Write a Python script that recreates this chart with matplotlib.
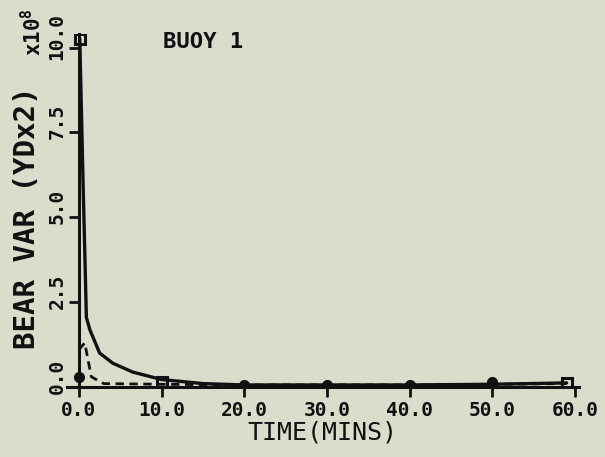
import numpy as np
import matplotlib.pyplot as plt
from matplotlib.transforms import ScaledTranslation

plt.rcParams['font.family'] = ['DejaVu Sans Mono', 'DejaVu Sans']
plt.rcParams['mathtext.default'] = 'regular'

###############################################################################
# Data (bearing variance, units of 1e8 yd^2)
# ------------------------------------------------------------
solid_time = [0.1, 0.5, 0.9, 1.3, 2.5, 4.1, 6.5, 10.0, 15.0, 20.0, 30.0, 40.0, 50.0, 59.0]
solid_var = [10.26, 6.0, 2.05, 1.7, 1.0, 0.7, 0.44, 0.22, 0.1, 0.06, 0.06, 0.06, 0.08, 0.12]

dashed_time = [0.0, 0.7, 1.5, 3.0, 10.0, 20.0, 30.0, 40.0, 50.0, 59.0]
dashed_var = [1.1, 1.3, 0.3, 0.1, 0.08, 0.06, 0.06, 0.06, 0.08, 0.1]

box_time = [0.1, 10.0, 59.0]
box_var = [10.26, 0.15, 0.12]

circle_time = [0.0, 20.0, 30.0, 40.0, 50.0]
circle_var = [0.3, 0.06, 0.06, 0.06, 0.15]

xticks = [0, 10, 20, 30, 40, 50, 60]
yticks = [0.0, 2.5, 5.0, 7.5, 10.0]

bg = '#dbdccb'
ink = '#111111'

###############################################################################
# Figure
# ------
fig = plt.figure(figsize=(6.05, 4.57), dpi=100, facecolor=bg)
ax = fig.add_axes([0.110, 0.1532, 0.847, 0.7724], facecolor=bg)

ax.plot(solid_time, solid_var, color=ink, lw=2.4, solid_capstyle='round')
ax.plot(dashed_time, dashed_var, color=ink, lw=2.0, linestyle=(0, (3, 2)))
ax.plot(box_time, box_var, linestyle='none', marker='s', ms=7, mfc='none', mec=ink, mew=2.2)
ax.plot(circle_time, circle_var, linestyle='none', marker='o', ms=7, mfc=ink, mec=ink)

ax.set_xlim(-1.5, 60.5)
ax.set_ylim(0, 10.4)

for s in ['top', 'right']:
    ax.spines[s].set_visible(False)
ax.spines['left'].set_position(('data', 0))
ax.spines['left'].set_linewidth(2.2)
ax.spines['bottom'].set_linewidth(2.2)
ax.spines['left'].set_color(ink)
ax.spines['bottom'].set_color(ink)

ax.set_xticks(xticks)
ax.set_xticklabels(['%.1f' % t for t in xticks], fontsize=14, fontweight='bold')
ax.set_yticks(yticks)
ax.set_yticklabels(['%.1f' % v for v in yticks], fontsize=14, fontweight='bold',
                   rotation=90, va='center')
ax.tick_params(axis='both', direction='out', length=7, width=2, color=ink, labelcolor=ink)
ax.tick_params(axis='x', pad=3)
ax.tick_params(axis='y', pad=2)

# y tick labels sit a little above their ticks in the original
for lbl in ax.get_yticklabels():
    lbl.set_transform(lbl.get_transform() + ScaledTranslation(0, 8 / 72, fig.dpi_scale_trans))

ax.set_xlabel('TIME(MINS)', fontsize=18, color=ink)
ax.xaxis.set_label_coords(0.499, -0.094)
ax.set_ylabel('BEAR VAR (YDx2)', fontsize=21, fontweight='bold', color=ink)
ax.yaxis.set_label_coords(-0.050, 0.479)

ax.text(0.188, 0.960, 'BUOY 1', transform=ax.transAxes, fontsize=16,
        fontweight='bold', ha='left', va='baseline', color=ink)
fig.text(33 / 605, 1 - 32 / 457, r'x10$^{8}$', rotation=90, fontsize=15,
         fontweight='bold', ha='center', va='center', color=ink)

fig.savefig('out.png', dpi=100, facecolor=bg)
